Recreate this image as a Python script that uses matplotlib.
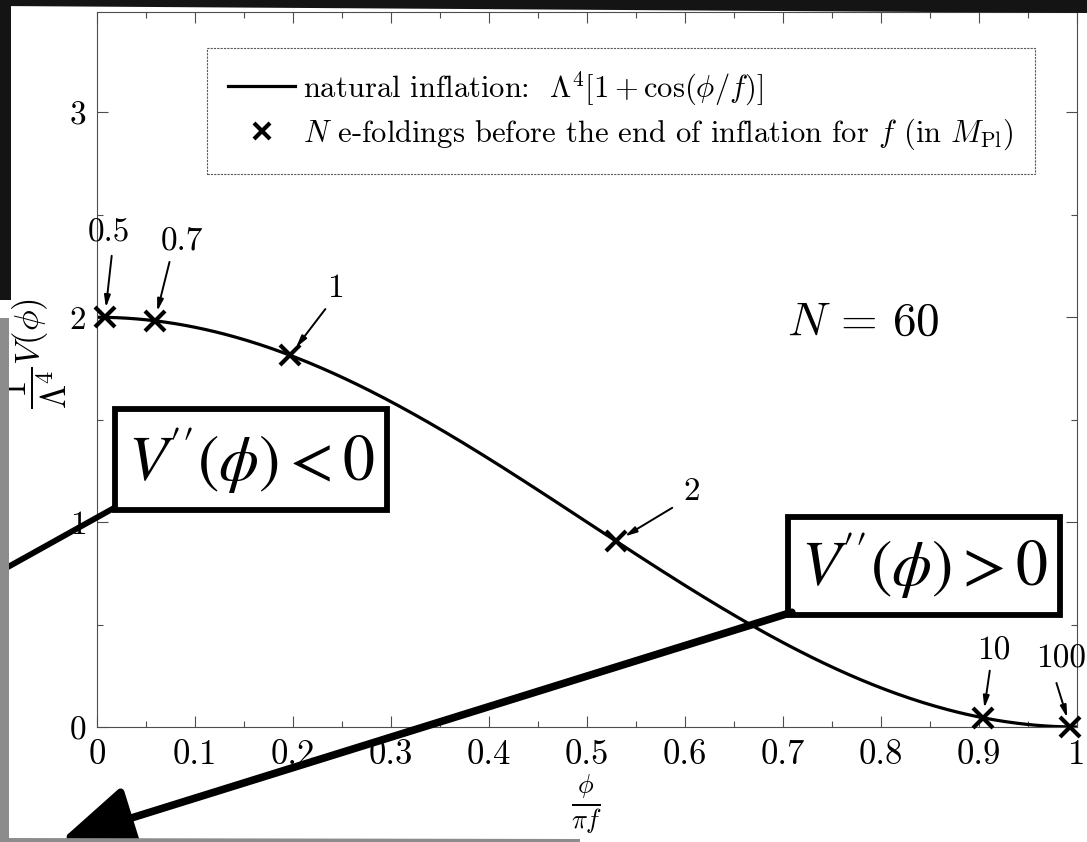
import numpy as np
import matplotlib.pyplot as plt
from matplotlib.lines import Line2D
from matplotlib.patches import Rectangle, Polygon, FancyArrowPatch

plt.rcParams['font.family'] = 'serif'
plt.rcParams['font.serif'] = ['cmr10', 'DejaVu Serif']
plt.rcParams['mathtext.fontset'] = 'cm'
plt.rcParams['axes.formatter.use_mathtext'] = True

# field values phi/(pi f) at N = 60 e-foldings before the end of inflation
f_values = ['0.5', '0.7', '1', '2', '10', '100']
x_efold = [0.008, 0.059, 0.197, 0.530, 0.904, 0.993]

# label positions (text) and arrow tails, in data units
label_pos = [(0.012, 2.41), (0.087, 2.37), (0.243, 2.14), (0.607, 1.15), (0.915, 0.37), (0.984, 0.33)]
tail_pos = [(0.015, 2.30), (0.074, 2.27), (0.233, 2.04), (0.587, 1.07), (0.911, 0.275), (0.979, 0.215)]

x_ticks = [0, 0.1, 0.2, 0.3, 0.4, 0.5, 0.6, 0.7, 0.8, 0.9, 1]
x_ticklabels = ['0', '0.1', '0.2', '0.3', '0.4', '0.5', '0.6', '0.7', '0.8', '0.9', '1']
y_ticks = [0, 1, 2, 3]


def potential(x):
    # V / Lambda^4 = 1 + cos(phi/f), with x = phi/(pi f)
    return 1 + np.cos(np.pi * np.asarray(x))


x = np.linspace(0, 1, 400)

fig = plt.figure(figsize=(10.87, 8.42), dpi=100)
ax = fig.add_axes([97 / 1087, 1 - 727 / 842, 980 / 1087, 715 / 842])

ax.plot(x, potential(x), color='k', lw=2.3)
ax.plot(x_efold, potential(x_efold), 'x', color='k', ms=14, mew=3, clip_on=False, zorder=5)

for lab, (tx, ty), (ax0, ay0), xm in zip(f_values, label_pos, tail_pos, x_efold):
    ax.text(tx, ty, lab, fontsize=24, ha='center', va='center')
    ax.annotate('', xy=(xm, potential(xm)), xytext=(ax0, ay0),
                arrowprops=dict(arrowstyle='-|>,head_length=0.7,head_width=0.18',
                                color='k', lw=1.4, shrinkA=0, shrinkB=7))

ax.set_xlim(0, 1)
ax.set_ylim(0, 3.49)
ax.set_xticks(x_ticks)
ax.set_xticklabels(x_ticklabels)
ax.set_yticks(y_ticks)
ax.set_xticks(np.arange(0, 1.001, 0.05), minor=True)
ax.set_yticks(np.arange(0, 3.49, 0.5), minor=True)
ax.tick_params(which='both', direction='in', top=True, right=True, width=0.8, color='0.3')
ax.tick_params(which='major', length=8)
ax.tick_params(which='minor', length=4)
ax.tick_params(axis='x', labelsize=25, pad=9)
ax.tick_params(axis='y', labelsize=24, pad=8)
for s in ax.spines.values():
    s.set_linewidth(0.8)
    s.set_color('0.3')
    s.set_linestyle((0, (2, 1)))

ax.set_xlabel(r'$\frac{\phi}{\pi f}$', fontsize=27)
ax.xaxis.set_label_coords(0.5, -0.063)
ax.xaxis.label.set_va('top')
ax.set_ylabel(r'$\dfrac{1}{\Lambda^4}V(\phi)$', fontsize=25)
ax.yaxis.set_label_coords(-0.029, 0.522)

handles = [Line2D([], [], color='k', lw=2.3),
           Line2D([], [], color='k', marker='x', ls='none', ms=11, mew=3)]
labels = [r'natural inflation:  $\Lambda^4[1+\cos(\phi/f)]$',
          r'$N$ e-foldings before the end of inflation for $f$ (in $M_{\mathrm{Pl}}$)']
leg = ax.legend(handles, labels, loc='upper left', bbox_to_anchor=(0.112, 0.95),
                borderaxespad=0, fontsize=22, fancybox=False, framealpha=1,
                edgecolor='0.35', handlelength=2.2, handletextpad=0.25,
                borderpad=0.7, labelspacing=0.3)
leg.get_frame().set_linewidth(0.8)
leg.get_frame().set_linestyle((0, (2, 1)))

ax.text(0.782, 1.97, r'$N\,=\,60$', fontsize=34, ha='center', va='center')

# boxed curvature labels with their pointers
box1 = Rectangle((0.018, 1.06), 0.278, 0.49, fill=False, lw=4.2, ec='k', clip_on=False, zorder=6)
ax.add_patch(box1)
ax.text(0.157, 1.30, r"$V^{\!\prime\prime}(\phi) < 0$", fontsize=46, ha='center', va='center',
        math_fontfamily='stix', zorder=6)
ax.plot([0.020, -0.11], [1.076, 0.73], color='k', lw=4.2, clip_on=False, zorder=6,
        solid_capstyle='butt')

box2 = Rectangle((0.705, 0.548), 0.278, 0.479, fill=False, lw=4.2, ec='k', clip_on=False, zorder=6)
ax.add_patch(box2)
ax.text(0.844, 0.79, r"$V^{\!\prime\prime}(\phi) > 0$", fontsize=46, ha='center', va='center',
        math_fontfamily='stix', zorder=6)
big = FancyArrowPatch((0.709, 0.56), (-0.036, -0.55),
                      arrowstyle='-|>,head_length=2.2,head_width=1.0',
                      mutation_scale=20, lw=5.5, color='k', clip_on=False, zorder=6,
                      shrinkA=0, shrinkB=0)
ax.add_patch(big)

# dark scan edges
W, H = 1087, 842


def fig_poly(pts, color):
    p = Polygon([(px / W, 1 - py / H) for px, py in pts], closed=True,
                transform=fig.transFigure, fc=color, ec='none', zorder=20)
    fig.patches.append(p)


fig_poly([(0, 0), (W, 0), (W, 13), (0, 6)], '0.08')
fig_poly([(0, 0), (11, 0), (11, 300), (0, 300)], '0.08')
fig_poly([(0, 318), (9, 318), (9, H), (0, H)], '0.55')
fig_poly([(0, 838), (580, 839), (580, H), (0, H)], '0.55')

fig.savefig('out.png', dpi=100)
